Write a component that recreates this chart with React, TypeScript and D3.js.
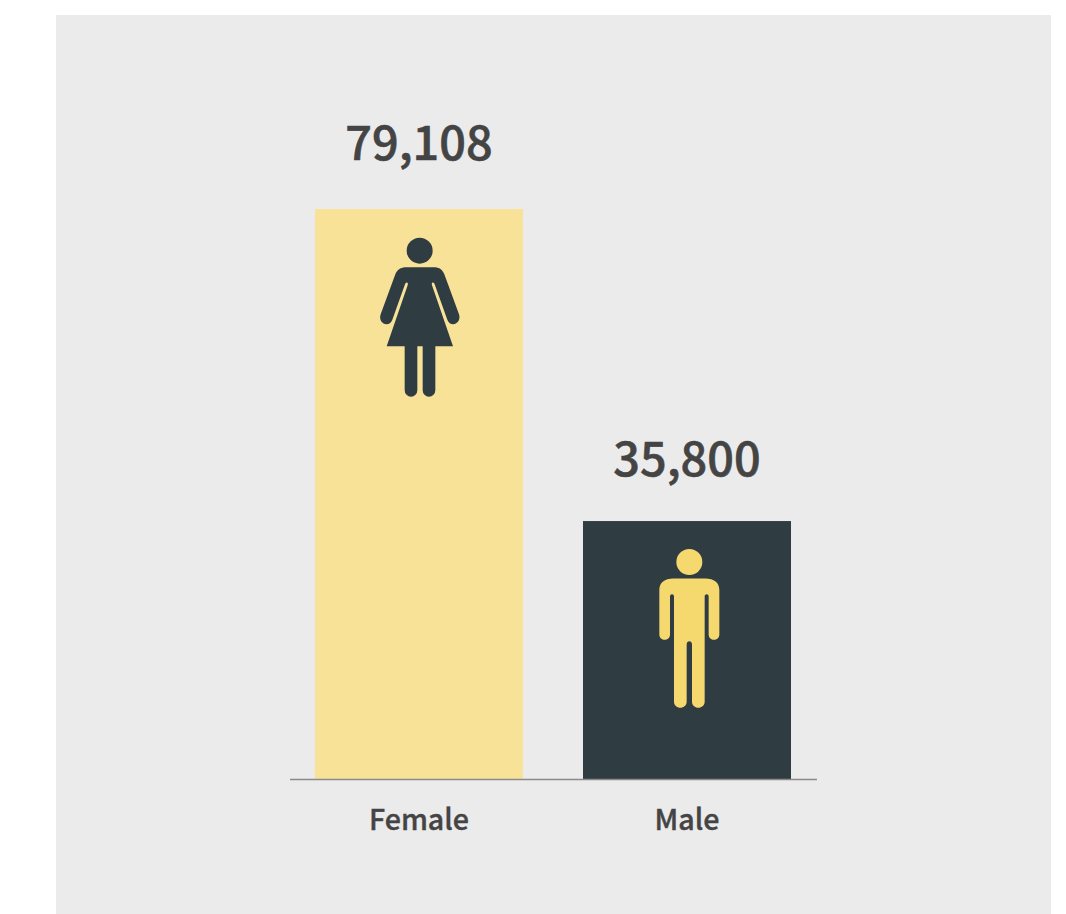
import React from "react";
import * as d3 from "d3";

const categories = ["Female", "Male"];
const values = [79108, 35800];
const formatValue = d3.format(",");

const W = 1066, H = 914;
const panel = { x: 56, y: 15, w: 995, h: 899 };
const baseline = 779;
const FONT = '"Noto Sans CJK SC", "Noto Sans", sans-serif';
const DARK = "#2f3c42";
const TEXT = "#444444";
const barFill = ["#f7e298", DARK];
const iconFill = [DARK, "#f5d96f"];

const x = d3.scaleBand<string>().domain(categories).range([315, 791]).paddingInner(60 / 268).paddingOuter(0);
const y = d3.scaleLinear().domain([0, 79108]).range([baseline, 209]);

const femalePath = "M135 127 L225 127 C240 127 249 138 253 148 L297 268 C303 285 290 298 280 298 C270 298 265 292 262 284 L224 178 C221 170 213 171 216 181 L279 364 L226 364 L226 496 A19 19 0 0 1 188 496 L188 364 L172 364 L172 496 A19 19 0 0 1 134 496 L134 364 L80 364 L143 181 C146 171 138 170 135 178 L97 284 C94 292 89 298 79 298 C68 298 56 285 62 268 L106 148 C110 138 120 127 135 127 Z";
const malePath = "M100 130 L196 130 C222 130 238 142 238 165 L238 298 C238 308 230 314 222 314 C214 314 206 308 206 298 L206 184 C206 175 194 175 194 184 L194 500 C194 511 185 518 175 518 C165 518 156 511 156 500 L156 328 C156 315 140 315 140 328 L140 500 C140 511 131 518 121 518 C111 518 102 511 102 500 L102 184 C102 175 90 175 90 184 L90 298 C90 308 82 314 74 314 C66 314 58 308 58 298 L58 165 C58 142 74 130 100 130 Z";

const glyphs = [
  { body: femalePath, head: [179, 77], origin: [-59, 16] },
  { body: malePath, head: [148, 81], origin: [-47, 14] },
];
const labelLift = [49.2, 45.2];

export default function App() {
  return (
    <svg width={W} height={H} style={{ position: "absolute", left: 0, top: 0, display: "block" }} fontFamily={FONT}>
      <rect x={panel.x} y={panel.y} width={panel.w} height={panel.h} fill="#ebebeb" />
      {categories.map((c, i) => {
        const bx = x(c)!;
        const cx = bx + x.bandwidth() / 2;
        const top = y(values[i]);
        const g = glyphs[i];
        return (
          <g key={c}>
            <rect x={bx} y={top} width={x.bandwidth()} height={baseline - top} fill={barFill[i]} />
            <g transform={`translate(${cx + g.origin[0]},${top + g.origin[1]}) scale(${1 / 3})`} fill={iconFill[i]}>
              <circle cx={g.head[0]} cy={g.head[1]} r={39} />
              <path d={g.body} />
            </g>
            <text x={cx} y={top - labelLift[i]} textAnchor="middle" fontSize={46.8} fontWeight={500} fill={TEXT} stroke={TEXT} strokeWidth={0.6}>
              {formatValue(values[i])}
            </text>
            <text x={cx} y={830} textAnchor="middle" fontSize={28.6} fontWeight={500} fill={TEXT} stroke={TEXT} strokeWidth={0.4}>
              {c}
            </text>
          </g>
        );
      })}
      <line x1={290} x2={817} y1={779.5} y2={779.5} stroke="#8a8a8a" strokeWidth={1.3} />
    </svg>
  );
}
